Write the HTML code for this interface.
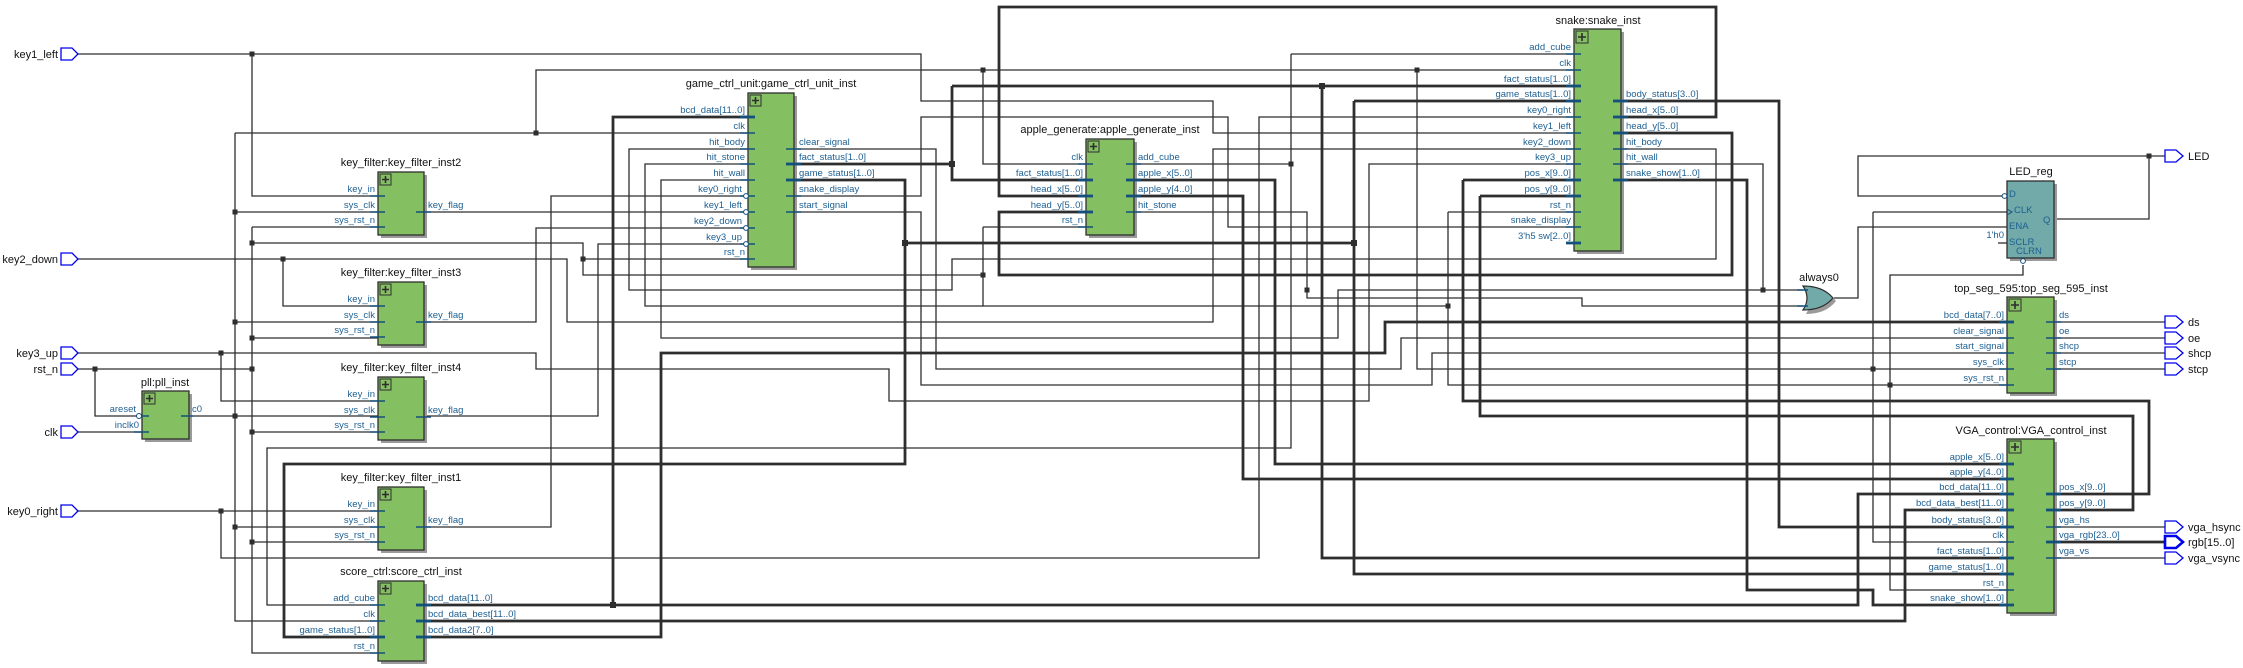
<!DOCTYPE html>
<html><head><meta charset="utf-8">
<style>
html,body{margin:0;padding:0;background:#fff;}
svg{display:block;}
.t{font-family:"Liberation Sans",sans-serif;font-size:11px;fill:#111;}
.p{font-family:"Liberation Sans",sans-serif;font-size:9.5px;fill:#1d5f92;}
.w{fill:none;stroke:#2e2e2e;stroke-width:1.3;}
.b{fill:none;stroke:#2e2e2e;stroke-width:2.8;}
.s{stroke:#15507c;stroke-width:1.5;}
.sb{stroke:#15507c;stroke-width:2.8;}
.blk{fill:#84c062;stroke:#2e2e2e;stroke-width:1.3;}
.sh{fill:#9a9a9a;}
.port{fill:#fff;stroke:#0000ee;stroke-width:1.3;}
.j{fill:#2e2e2e;}
</style></head>
<body>
<svg width="2243" height="668" viewBox="0 0 2243 668" xmlns="http://www.w3.org/2000/svg">
<rect width="2243" height="668" fill="#fff"/>

<!-- ============ THIN WIRES ============ -->
<g class="w">
<!-- key1_left -->
<polyline points="78,54 921,54 921,101 1213,101 1213,133 1574,133"/>
<polyline points="252,54 252,196 385,196"/>
<!-- clk net from game clk up -->
<polyline points="536,133 536,70 1574,70"/>
<polyline points="983,70 983,164 1086,164"/>
<polyline points="1417,70 1417,369 2007,369"/>
<polyline points="1873,212 2007,212"/>
<polyline points="1873,212 1873,542 2007,542"/>
<!-- pll clock -->
<polyline points="189,416 385,416"/>
<polyline points="235,133 235,621 378,621"/>
<polyline points="235,133 748,133"/>
<polyline points="235,212 385,212"/>
<polyline points="235,322 385,322"/>
<polyline points="235,527 385,527"/>
<!-- reset -->
<polyline points="78,369 252,369"/>
<polyline points="95,369 95,416 139,416"/>
<polyline points="252,227 252,653 378,653"/>
<polyline points="252,227 385,227"/>
<polyline points="252,243 583,243 583,275 983,275"/>
<polyline points="583,259 748,259"/>
<polyline points="252,338 385,338"/>
<polyline points="252,432 385,432"/>
<polyline points="252,542 385,542"/>
<polyline points="983,227 1086,227"/>
<polyline points="983,227 983,306 1448,306"/>
<polyline points="1448,212 1574,212"/>
<polyline points="1448,212 1448,385 2007,385"/>
<polyline points="1890,385 1890,275 2023,275 2023,265"/>
<polyline points="1890,385 1890,590 2007,590"/>
<!-- clk input -->
<polyline points="78,432 142,432"/>
<!-- key2_down -->
<polyline points="78,259 567,259 567,322 1213,322 1213,149 1574,149"/>
<polyline points="283,259 283,306 385,306"/>
<!-- key3_up -->
<polyline points="78,353 536,353 536,369 889,369 889,401 1369,401 1369,164 1574,164"/>
<polyline points="221,353 221,401 385,401"/>
<!-- key0_right -->
<polyline points="78,511 385,511"/>
<polyline points="221,511 221,558 1259,558 1259,117 1574,117"/>
<!-- key_flag outputs -->
<polyline points="424,212 748,212"/>
<polyline points="424,322 536,322 536,228 748,228"/>
<polyline points="424,416 598,416 598,244 748,244"/>
<polyline points="424,527 551,527 551,196 748,196"/>
<!-- add_cube -->
<polyline points="1134,164 1291,164"/>
<polyline points="1291,54 1291,448 267,448 267,605 378,605"/>
<polyline points="1291,54 1574,54"/>
<!-- hit_body -->
<polyline points="1621,149 1716,149 1716,259 952,259 952,290 629,290 629,149 748,149"/>
<!-- hit_wall -->
<polyline points="1621,164 1763,164 1763,290 1803,290"/>
<polyline points="1763,290 1338,290 1338,338 661,338 661,180 748,180"/>
<!-- hit_stone -->
<polyline points="1134,212 1307,212 1307,298 1582,298 1582,306 1803,306"/>
<polyline points="748,164 645,164 645,306 983,306"/>
<!-- clear_signal -->
<polyline points="794,149 936,149 936,369 1401,369 1401,338 2007,338"/>
<!-- snake_display -->
<polyline points="794,196 921,196 921,117 1228,117 1228,227 1574,227"/>
<!-- start_signal -->
<polyline points="794,212 921,212 921,385 1432,385 1432,353 2007,353"/>
<!-- ENA / LED -->
<polyline points="1834,298 1858,298 1858,227 2007,227"/>
<polyline points="2149,156 1858,156 1858,196 2003,196"/>
<polyline points="2054,219 2149,219 2149,156 2165,156"/>
<polyline points="1998,243 2007,243"/>
<!-- outputs -->
<polyline points="2054,322 2165,322"/>
<polyline points="2054,338 2165,338"/>
<polyline points="2054,353 2165,353"/>
<polyline points="2054,369 2165,369"/>
<polyline points="2054,527 2165,527"/>
<polyline points="2054,558 2165,558"/>
</g>

<!-- ============ THICK WIRES ============ -->
<g class="b">
<polyline points="1621,117 1716,117 1716,7 999,7 999,196 1086,196"/>
<polyline points="1621,133 1732,133 1732,275 999,275 999,212 1086,212"/>
<polyline points="794,164 952,164"/>
<polyline points="952,86 952,180 1086,180"/>
<polyline points="952,86 1574,86"/>
<polyline points="1322,86 1322,558 2007,558"/>
<polyline points="794,180 905,180 905,464 284,464 284,637 378,637"/>
<polyline points="905,243 1354,243"/>
<polyline points="1354,101 1574,101"/>
<polyline points="1354,101 1354,574 2007,574"/>
<polyline points="424,605 1858,605 1858,494 2007,494"/>
<polyline points="613,605 613,117 748,117"/>
<polyline points="424,621 1905,621 1905,510 2007,510"/>
<polyline points="424,637 661,637 661,353 1385,353 1385,322 2007,322"/>
<polyline points="1134,180 1275,180 1275,464 2007,464"/>
<polyline points="1134,196 1243,196 1243,479 2007,479"/>
<polyline points="1463,180 1574,180"/>
<polyline points="1463,180 1463,401 2149,401 2149,494 2054,494"/>
<polyline points="1480,196 1574,196"/>
<polyline points="1480,196 1480,416 2133,416 2133,510 2054,510"/>
<polyline points="1621,101 1779,101 1779,527 2007,527"/>
<polyline points="1621,180 1747,180 1747,590 1873,590 1873,605 2007,605"/>
<polyline points="2054,542 2165,542"/>
</g>

<!-- ============ JUNCTIONS ============ -->
<g class="j">
<rect x="249.5" y="51.5" width="5" height="5"/>
<rect x="533.5" y="130.5" width="5" height="5"/>
<rect x="980.5" y="67.5" width="5" height="5"/>
<rect x="1414.5" y="67.5" width="5" height="5"/>
<rect x="1870.5" y="366.5" width="5" height="5"/>
<rect x="232.5" y="209.5" width="5" height="5"/>
<rect x="232.5" y="319.5" width="5" height="5"/>
<rect x="232.5" y="413.5" width="5" height="5"/>
<rect x="232.5" y="524.5" width="5" height="5"/>
<rect x="92.5" y="366.5" width="5" height="5"/>
<rect x="249.5" y="366.5" width="5" height="5"/>
<rect x="249.5" y="240.5" width="5" height="5"/>
<rect x="249.5" y="335.5" width="5" height="5"/>
<rect x="249.5" y="429.5" width="5" height="5"/>
<rect x="249.5" y="539.5" width="5" height="5"/>
<rect x="580.5" y="256.5" width="5" height="5"/>
<rect x="980.5" y="272.5" width="5" height="5"/>
<rect x="1445.5" y="303.5" width="5" height="5"/>
<rect x="1887.5" y="382.5" width="5" height="5"/>
<rect x="280.5" y="256.5" width="5" height="5"/>
<rect x="218.5" y="350.5" width="5" height="5"/>
<rect x="218.5" y="508.5" width="5" height="5"/>
<rect x="1288.5" y="161.5" width="5" height="5"/>
<rect x="1760.5" y="287.5" width="5" height="5"/>
<rect x="1304.5" y="287.5" width="5" height="5"/>
<rect x="2146.5" y="153.5" width="5" height="5"/>
<rect x="949" y="161" width="6" height="6"/>
<rect x="1319" y="83" width="6" height="6"/>
<rect x="902" y="240" width="6" height="6"/>
<rect x="1351" y="240" width="6" height="6"/>
<rect x="610" y="602" width="6" height="6"/>
</g>

<!-- ============ BLOCK MACRO-LIKE ELEMENTS ============ -->
<!-- pll -->
<rect class="sh" x="145" y="394" width="47" height="48"/>
<rect class="blk" x="142" y="391" width="47" height="48"/>
<rect x="144" y="393" width="11" height="11" fill="none" stroke="#2e2e2e"/><path d="M146 398.5h7M149.5 395v7" stroke="#2e2e2e" stroke-width="1.6"/>
<text class="t" x="165" y="386" text-anchor="middle">pll:pll_inst</text>
<line class="s" x1="142" y1="416" x2="149" y2="416"/><circle cx="139" cy="416" r="2.5" fill="#fff" stroke="#15507c"/>
<line class="s" x1="134" y1="432" x2="149" y2="432"/>
<text class="p" x="136" y="412" text-anchor="end">areset</text>
<text class="p" x="139" y="428" text-anchor="end">inclk0</text>
<line class="s" x1="181" y1="416" x2="193" y2="416"/>
<text class="p" x="192" y="412">c0</text>

<!-- key_filter blocks -->
<g id="kf2">
<rect class="sh" x="381" y="175" width="46" height="63"/>
<rect class="blk" x="378" y="172" width="46" height="63"/>
<rect x="380" y="174" width="11" height="11" fill="none" stroke="#2e2e2e"/><path d="M382 179.5h7M385.5 176v7" stroke="#2e2e2e" stroke-width="1.6"/>
<text class="t" x="401" y="166" text-anchor="middle">key_filter:key_filter_inst2</text>
<line class="s" x1="370" y1="196" x2="385" y2="196"/><line class="s" x1="370" y1="212" x2="385" y2="212"/><line class="s" x1="370" y1="227" x2="385" y2="227"/>
<text class="p" x="375" y="192" text-anchor="end">key_in</text>
<text class="p" x="375" y="208" text-anchor="end">sys_clk</text>
<text class="p" x="375" y="223" text-anchor="end">sys_rst_n</text>
<line class="s" x1="416" y1="212" x2="431" y2="212"/>
<text class="p" x="428" y="208">key_flag</text>
</g>
<g transform="translate(0,110)">
<rect class="sh" x="381" y="175" width="46" height="63"/>
<rect class="blk" x="378" y="172" width="46" height="63"/>
<rect x="380" y="174" width="11" height="11" fill="none" stroke="#2e2e2e"/><path d="M382 179.5h7M385.5 176v7" stroke="#2e2e2e" stroke-width="1.6"/>
<text class="t" x="401" y="166" text-anchor="middle">key_filter:key_filter_inst3</text>
<line class="s" x1="370" y1="196" x2="385" y2="196"/><line class="s" x1="370" y1="212" x2="385" y2="212"/><line class="s" x1="370" y1="227" x2="385" y2="227"/>
<text class="p" x="375" y="192" text-anchor="end">key_in</text>
<text class="p" x="375" y="208" text-anchor="end">sys_clk</text>
<text class="p" x="375" y="223" text-anchor="end">sys_rst_n</text>
<line class="s" x1="416" y1="212" x2="431" y2="212"/>
<text class="p" x="428" y="208">key_flag</text>
</g>
<g transform="translate(0,205)">
<rect class="sh" x="381" y="175" width="46" height="63"/>
<rect class="blk" x="378" y="172" width="46" height="63"/>
<rect x="380" y="174" width="11" height="11" fill="none" stroke="#2e2e2e"/><path d="M382 179.5h7M385.5 176v7" stroke="#2e2e2e" stroke-width="1.6"/>
<text class="t" x="401" y="166" text-anchor="middle">key_filter:key_filter_inst4</text>
<line class="s" x1="370" y1="196" x2="385" y2="196"/><line class="s" x1="370" y1="212" x2="385" y2="212"/><line class="s" x1="370" y1="227" x2="385" y2="227"/>
<text class="p" x="375" y="192" text-anchor="end">key_in</text>
<text class="p" x="375" y="208" text-anchor="end">sys_clk</text>
<text class="p" x="375" y="223" text-anchor="end">sys_rst_n</text>
<line class="s" x1="416" y1="212" x2="431" y2="212"/>
<text class="p" x="428" y="208">key_flag</text>
</g>
<g transform="translate(0,315)">
<rect class="sh" x="381" y="175" width="46" height="63"/>
<rect class="blk" x="378" y="172" width="46" height="63"/>
<rect x="380" y="174" width="11" height="11" fill="none" stroke="#2e2e2e"/><path d="M382 179.5h7M385.5 176v7" stroke="#2e2e2e" stroke-width="1.6"/>
<text class="t" x="401" y="166" text-anchor="middle">key_filter:key_filter_inst1</text>
<line class="s" x1="370" y1="196" x2="385" y2="196"/><line class="s" x1="370" y1="212" x2="385" y2="212"/><line class="s" x1="370" y1="227" x2="385" y2="227"/>
<text class="p" x="375" y="192" text-anchor="end">key_in</text>
<text class="p" x="375" y="208" text-anchor="end">sys_clk</text>
<text class="p" x="375" y="223" text-anchor="end">sys_rst_n</text>
<line class="s" x1="416" y1="212" x2="431" y2="212"/>
<text class="p" x="428" y="208">key_flag</text>
</g>

<!-- score_ctrl -->
<rect class="sh" x="381" y="584" width="46" height="80"/>
<rect class="blk" x="378" y="581" width="46" height="80"/>
<rect x="380" y="583" width="11" height="11" fill="none" stroke="#2e2e2e"/><path d="M382 588.5h7M385.5 585v7" stroke="#2e2e2e" stroke-width="1.6"/>
<text class="t" x="401" y="575" text-anchor="middle">score_ctrl:score_ctrl_inst</text>
<line class="s" x1="370" y1="605" x2="385" y2="605"/><line class="s" x1="370" y1="621" x2="385" y2="621"/><line class="sb" x1="370" y1="637" x2="385" y2="637"/><line class="s" x1="370" y1="653" x2="385" y2="653"/>
<text class="p" x="375" y="601" text-anchor="end">add_cube</text>
<text class="p" x="375" y="617" text-anchor="end">clk</text>
<text class="p" x="375" y="633" text-anchor="end">game_status[1..0]</text>
<text class="p" x="375" y="649" text-anchor="end">rst_n</text>
<line class="sb" x1="416" y1="605" x2="431" y2="605"/><line class="sb" x1="416" y1="621" x2="431" y2="621"/><line class="sb" x1="416" y1="637" x2="431" y2="637"/>
<text class="p" x="428" y="601">bcd_data[11..0]</text>
<text class="p" x="428" y="617">bcd_data_best[11..0]</text>
<text class="p" x="428" y="633">bcd_data2[7..0]</text>

<!-- game_ctrl_unit -->
<rect class="sh" x="751" y="96" width="46" height="174"/>
<rect class="blk" x="748" y="93" width="46" height="174"/>
<rect x="750" y="95" width="11" height="11" fill="none" stroke="#2e2e2e"/><path d="M752 100.5h7M755.5 97v7" stroke="#2e2e2e" stroke-width="1.6"/>
<text class="t" x="771" y="87" text-anchor="middle">game_ctrl_unit:game_ctrl_unit_inst</text>
<line class="sb" x1="740" y1="117" x2="755" y2="117"/>
<line class="s" x1="740" y1="133" x2="755" y2="133"/><line class="s" x1="740" y1="149" x2="755" y2="149"/><line class="s" x1="740" y1="164" x2="755" y2="164"/><line class="s" x1="740" y1="180" x2="755" y2="180"/>
<line class="s" x1="740" y1="196" x2="755" y2="196"/><line class="s" x1="740" y1="212" x2="755" y2="212"/><line class="s" x1="740" y1="228" x2="755" y2="228"/><line class="s" x1="740" y1="244" x2="755" y2="244"/><line class="s" x1="740" y1="259" x2="755" y2="259"/>
<g fill="#fff" stroke="#15507c"><circle cx="746" cy="196" r="2.4"/><circle cx="746" cy="212" r="2.4"/><circle cx="746" cy="228" r="2.4"/><circle cx="746" cy="244" r="2.4"/></g>
<text class="p" x="745" y="113" text-anchor="end">bcd_data[11..0]</text>
<text class="p" x="745" y="129" text-anchor="end">clk</text>
<text class="p" x="745" y="145" text-anchor="end">hit_body</text>
<text class="p" x="745" y="160" text-anchor="end">hit_stone</text>
<text class="p" x="745" y="176" text-anchor="end">hit_wall</text>
<text class="p" x="742" y="192" text-anchor="end">key0_right</text>
<text class="p" x="742" y="208" text-anchor="end">key1_left</text>
<text class="p" x="742" y="224" text-anchor="end">key2_down</text>
<text class="p" x="742" y="240" text-anchor="end">key3_up</text>
<text class="p" x="745" y="255" text-anchor="end">rst_n</text>
<line class="s" x1="786" y1="149" x2="801" y2="149"/><line class="sb" x1="786" y1="164" x2="801" y2="164"/><line class="sb" x1="786" y1="180" x2="801" y2="180"/><line class="s" x1="786" y1="196" x2="801" y2="196"/><line class="s" x1="786" y1="212" x2="801" y2="212"/>
<text class="p" x="799" y="145">clear_signal</text>
<text class="p" x="799" y="160">fact_status[1..0]</text>
<text class="p" x="799" y="176">game_status[1..0]</text>
<text class="p" x="799" y="192">snake_display</text>
<text class="p" x="799" y="208">start_signal</text>

<!-- apple_generate -->
<rect class="sh" x="1089" y="142" width="48" height="96"/>
<rect class="blk" x="1086" y="139" width="48" height="96"/>
<rect x="1088" y="141" width="11" height="11" fill="none" stroke="#2e2e2e"/><path d="M1090 146.5h7M1093.5 143v7" stroke="#2e2e2e" stroke-width="1.6"/>
<text class="t" x="1110" y="133" text-anchor="middle">apple_generate:apple_generate_inst</text>
<line class="s" x1="1078" y1="164" x2="1093" y2="164"/><line class="sb" x1="1078" y1="180" x2="1093" y2="180"/><line class="sb" x1="1078" y1="196" x2="1093" y2="196"/><line class="sb" x1="1078" y1="212" x2="1093" y2="212"/><line class="s" x1="1078" y1="227" x2="1093" y2="227"/>
<text class="p" x="1083" y="160" text-anchor="end">clk</text>
<text class="p" x="1083" y="176" text-anchor="end">fact_status[1..0]</text>
<text class="p" x="1083" y="192" text-anchor="end">head_x[5..0]</text>
<text class="p" x="1083" y="208" text-anchor="end">head_y[5..0]</text>
<text class="p" x="1083" y="223" text-anchor="end">rst_n</text>
<line class="s" x1="1126" y1="164" x2="1141" y2="164"/><line class="sb" x1="1126" y1="180" x2="1141" y2="180"/><line class="sb" x1="1126" y1="196" x2="1141" y2="196"/><line class="s" x1="1126" y1="212" x2="1141" y2="212"/>
<text class="p" x="1138" y="160">add_cube</text>
<text class="p" x="1138" y="176">apple_x[5..0]</text>
<text class="p" x="1138" y="192">apple_y[4..0]</text>
<text class="p" x="1138" y="208">hit_stone</text>

<!-- snake -->
<rect class="sh" x="1577" y="32" width="47" height="222"/>
<rect class="blk" x="1574" y="29" width="47" height="222"/>
<rect x="1576" y="31" width="12" height="12" fill="none" stroke="#2e2e2e"/><path d="M1578 37h8M1582 33v8" stroke="#2e2e2e" stroke-width="1.6"/>
<text class="t" x="1598" y="24" text-anchor="middle">snake:snake_inst</text>
<g class="s">
<line x1="1566" y1="54" x2="1581" y2="54"/><line x1="1566" y1="70" x2="1581" y2="70"/>
<line x1="1566" y1="117" x2="1581" y2="117"/><line x1="1566" y1="133" x2="1581" y2="133"/><line x1="1566" y1="149" x2="1581" y2="149"/><line x1="1566" y1="164" x2="1581" y2="164"/>
<line x1="1566" y1="212" x2="1581" y2="212"/><line x1="1566" y1="227" x2="1581" y2="227"/>
<line x1="1613" y1="149" x2="1628" y2="149"/><line x1="1613" y1="164" x2="1628" y2="164"/>
</g>
<g class="sb">
<line x1="1566" y1="86" x2="1581" y2="86"/><line x1="1566" y1="101" x2="1581" y2="101"/><line x1="1566" y1="180" x2="1581" y2="180"/><line x1="1566" y1="196" x2="1581" y2="196"/><line x1="1566" y1="243" x2="1581" y2="243"/>
<line x1="1613" y1="101" x2="1628" y2="101"/><line x1="1613" y1="117" x2="1628" y2="117"/><line x1="1613" y1="133" x2="1628" y2="133"/><line x1="1613" y1="180" x2="1628" y2="180"/>
</g>
<text class="p" x="1571" y="50" text-anchor="end">add_cube</text>
<text class="p" x="1571" y="66" text-anchor="end">clk</text>
<text class="p" x="1571" y="82" text-anchor="end">fact_status[1..0]</text>
<text class="p" x="1571" y="97" text-anchor="end">game_status[1..0]</text>
<text class="p" x="1571" y="113" text-anchor="end">key0_right</text>
<text class="p" x="1571" y="129" text-anchor="end">key1_left</text>
<text class="p" x="1571" y="145" text-anchor="end">key2_down</text>
<text class="p" x="1571" y="160" text-anchor="end">key3_up</text>
<text class="p" x="1571" y="176" text-anchor="end">pos_x[9..0]</text>
<text class="p" x="1571" y="192" text-anchor="end">pos_y[9..0]</text>
<text class="p" x="1571" y="208" text-anchor="end">rst_n</text>
<text class="p" x="1571" y="223" text-anchor="end">snake_display</text>
<text class="p" x="1571" y="239" text-anchor="end">3'h5 sw[2..0]</text>
<text class="p" x="1626" y="97">body_status[3..0]</text>
<text class="p" x="1626" y="113">head_x[5..0]</text>
<text class="p" x="1626" y="129">head_y[5..0]</text>
<text class="p" x="1626" y="145">hit_body</text>
<text class="p" x="1626" y="160">hit_wall</text>
<text class="p" x="1626" y="176">snake_show[1..0]</text>

<!-- always0 OR gate -->
<text class="t" x="1819" y="281" text-anchor="middle">always0</text>
<path d="M1806 288 Q1826 288 1836 301 Q1826 314 1806 314 Q1814 301 1806 288 Z" fill="#9a9a9a"/>
<path d="M1803 286 Q1823 286 1833 298 Q1823 310 1803 310 Q1811 298 1803 286 Z" fill="#71aaa8" stroke="#2e2e2e" stroke-width="1.2"/>
<line class="s" x1="1797" y1="290" x2="1808" y2="290"/><line class="s" x1="1797" y1="306" x2="1808" y2="306"/>

<!-- LED_reg -->
<text class="t" x="2031" y="175" text-anchor="middle">LED_reg</text>
<rect class="sh" x="2010" y="184" width="47" height="77"/>
<rect x="2007" y="181" width="47" height="77" fill="#71aaa8" stroke="#2e2e2e" stroke-width="1.3"/>
<circle cx="2004.5" cy="196" r="2.4" fill="#fff" stroke="#15507c"/>
<circle cx="2023" cy="261" r="2.4" fill="#fff" stroke="#15507c"/>
<path d="M2007 209 l5 3 l-5 3" fill="none" stroke="#15507c"/>
<text class="p" x="2009" y="197">D</text>
<text class="p" x="2014" y="213">CLK</text>
<text class="p" x="2009" y="229">ENA</text>
<text class="p" x="2009" y="245">SCLR</text>
<text class="p" x="2016" y="254">CLRN</text>
<text class="p" x="2043" y="223">Q</text>
<text class="p" x="2004" y="238" text-anchor="end">1'h0</text>

<!-- top_seg_595 -->
<text class="t" x="2031" y="292" text-anchor="middle">top_seg_595:top_seg_595_inst</text>
<rect class="sh" x="2010" y="300" width="47" height="96"/>
<rect class="blk" x="2007" y="297" width="47" height="96"/>
<rect x="2009" y="299" width="12" height="12" fill="none" stroke="#2e2e2e"/><path d="M2011 305h8M2015 301v8" stroke="#2e2e2e" stroke-width="1.6"/>
<line class="sb" x1="1999" y1="322" x2="2014" y2="322"/>
<g class="s"><line x1="1999" y1="338" x2="2014" y2="338"/><line x1="1999" y1="353" x2="2014" y2="353"/><line x1="1999" y1="369" x2="2014" y2="369"/><line x1="1999" y1="385" x2="2014" y2="385"/>
<line x1="2046" y1="322" x2="2061" y2="322"/><line x1="2046" y1="338" x2="2061" y2="338"/><line x1="2046" y1="353" x2="2061" y2="353"/><line x1="2046" y1="369" x2="2061" y2="369"/></g>
<text class="p" x="2004" y="318" text-anchor="end">bcd_data[7..0]</text>
<text class="p" x="2004" y="334" text-anchor="end">clear_signal</text>
<text class="p" x="2004" y="349" text-anchor="end">start_signal</text>
<text class="p" x="2004" y="365" text-anchor="end">sys_clk</text>
<text class="p" x="2004" y="381" text-anchor="end">sys_rst_n</text>
<text class="p" x="2059" y="318">ds</text>
<text class="p" x="2059" y="334">oe</text>
<text class="p" x="2059" y="349">shcp</text>
<text class="p" x="2059" y="365">stcp</text>

<!-- VGA_control -->
<text class="t" x="2031" y="434" text-anchor="middle">VGA_control:VGA_control_inst</text>
<rect class="sh" x="2010" y="442" width="47" height="174"/>
<rect class="blk" x="2007" y="439" width="47" height="174"/>
<rect x="2009" y="441" width="12" height="12" fill="none" stroke="#2e2e2e"/><path d="M2011 447h8M2015 443v8" stroke="#2e2e2e" stroke-width="1.6"/>
<g class="sb"><line x1="1999" y1="464" x2="2014" y2="464"/><line x1="1999" y1="479" x2="2014" y2="479"/><line x1="1999" y1="494" x2="2014" y2="494"/><line x1="1999" y1="510" x2="2014" y2="510"/><line x1="1999" y1="527" x2="2014" y2="527"/><line x1="1999" y1="558" x2="2014" y2="558"/><line x1="1999" y1="574" x2="2014" y2="574"/><line x1="1999" y1="605" x2="2014" y2="605"/>
<line x1="2046" y1="494" x2="2061" y2="494"/><line x1="2046" y1="510" x2="2061" y2="510"/><line x1="2046" y1="542" x2="2061" y2="542"/></g>
<g class="s"><line x1="1999" y1="542" x2="2014" y2="542"/><line x1="1999" y1="590" x2="2014" y2="590"/><line x1="2046" y1="527" x2="2061" y2="527"/><line x1="2046" y1="558" x2="2061" y2="558"/></g>
<text class="p" x="2004" y="460" text-anchor="end">apple_x[5..0]</text>
<text class="p" x="2004" y="475" text-anchor="end">apple_y[4..0]</text>
<text class="p" x="2004" y="490" text-anchor="end">bcd_data[11..0]</text>
<text class="p" x="2004" y="506" text-anchor="end">bcd_data_best[11..0]</text>
<text class="p" x="2004" y="523" text-anchor="end">body_status[3..0]</text>
<text class="p" x="2004" y="538" text-anchor="end">clk</text>
<text class="p" x="2004" y="554" text-anchor="end">fact_status[1..0]</text>
<text class="p" x="2004" y="570" text-anchor="end">game_status[1..0]</text>
<text class="p" x="2004" y="586" text-anchor="end">rst_n</text>
<text class="p" x="2004" y="601" text-anchor="end">snake_show[1..0]</text>
<text class="p" x="2059" y="490">pos_x[9..0]</text>
<text class="p" x="2059" y="506">pos_y[9..0]</text>
<text class="p" x="2059" y="523">vga_hs</text>
<text class="p" x="2059" y="538">vga_rgb[23..0]</text>
<text class="p" x="2059" y="554">vga_vs</text>

<!-- ============ INPUT PORTS ============ -->
<g class="port">
<polygon points="61,48 72,48 78,54 72,60 61,60"/>
<polygon points="61,253 72,253 78,259 72,265 61,265"/>
<polygon points="61,347 72,347 78,353 72,359 61,359"/>
<polygon points="61,363 72,363 78,369 72,375 61,375"/>
<polygon points="61,426 72,426 78,432 72,438 61,438"/>
<polygon points="61,505 72,505 78,511 72,517 61,517"/>
</g>
<text class="t" x="58" y="58" text-anchor="end">key1_left</text>
<text class="t" x="58" y="263" text-anchor="end">key2_down</text>
<text class="t" x="58" y="357" text-anchor="end">key3_up</text>
<text class="t" x="58" y="373" text-anchor="end">rst_n</text>
<text class="t" x="58" y="436" text-anchor="end">clk</text>
<text class="t" x="58" y="515" text-anchor="end">key0_right</text>

<!-- ============ OUTPUT PORTS ============ -->
<g class="port">
<polygon points="2165,150 2176,150 2183,156 2176,162 2165,162"/>
<polygon points="2165,316 2176,316 2183,322 2176,328 2165,328"/>
<polygon points="2165,332 2176,332 2183,338 2176,344 2165,344"/>
<polygon points="2165,347 2176,347 2183,353 2176,359 2165,359"/>
<polygon points="2165,363 2176,363 2183,369 2176,375 2165,375"/>
<polygon points="2165,521 2176,521 2183,527 2176,533 2165,533"/>
<polygon points="2165,552 2176,552 2183,558 2176,564 2165,564"/>
</g>
<polygon points="2165,536 2176,536 2183,542 2176,548 2165,548" fill="#fff" stroke="#0000ee" stroke-width="2.6"/>
<text class="t" x="2188" y="160">LED</text>
<text class="t" x="2188" y="326">ds</text>
<text class="t" x="2188" y="342">oe</text>
<text class="t" x="2188" y="357">shcp</text>
<text class="t" x="2188" y="373">stcp</text>
<text class="t" x="2188" y="531">vga_hsync</text>
<text class="t" x="2188" y="546">rgb[15..0]</text>
<text class="t" x="2188" y="562">vga_vsync</text>
</svg>
</body></html>
